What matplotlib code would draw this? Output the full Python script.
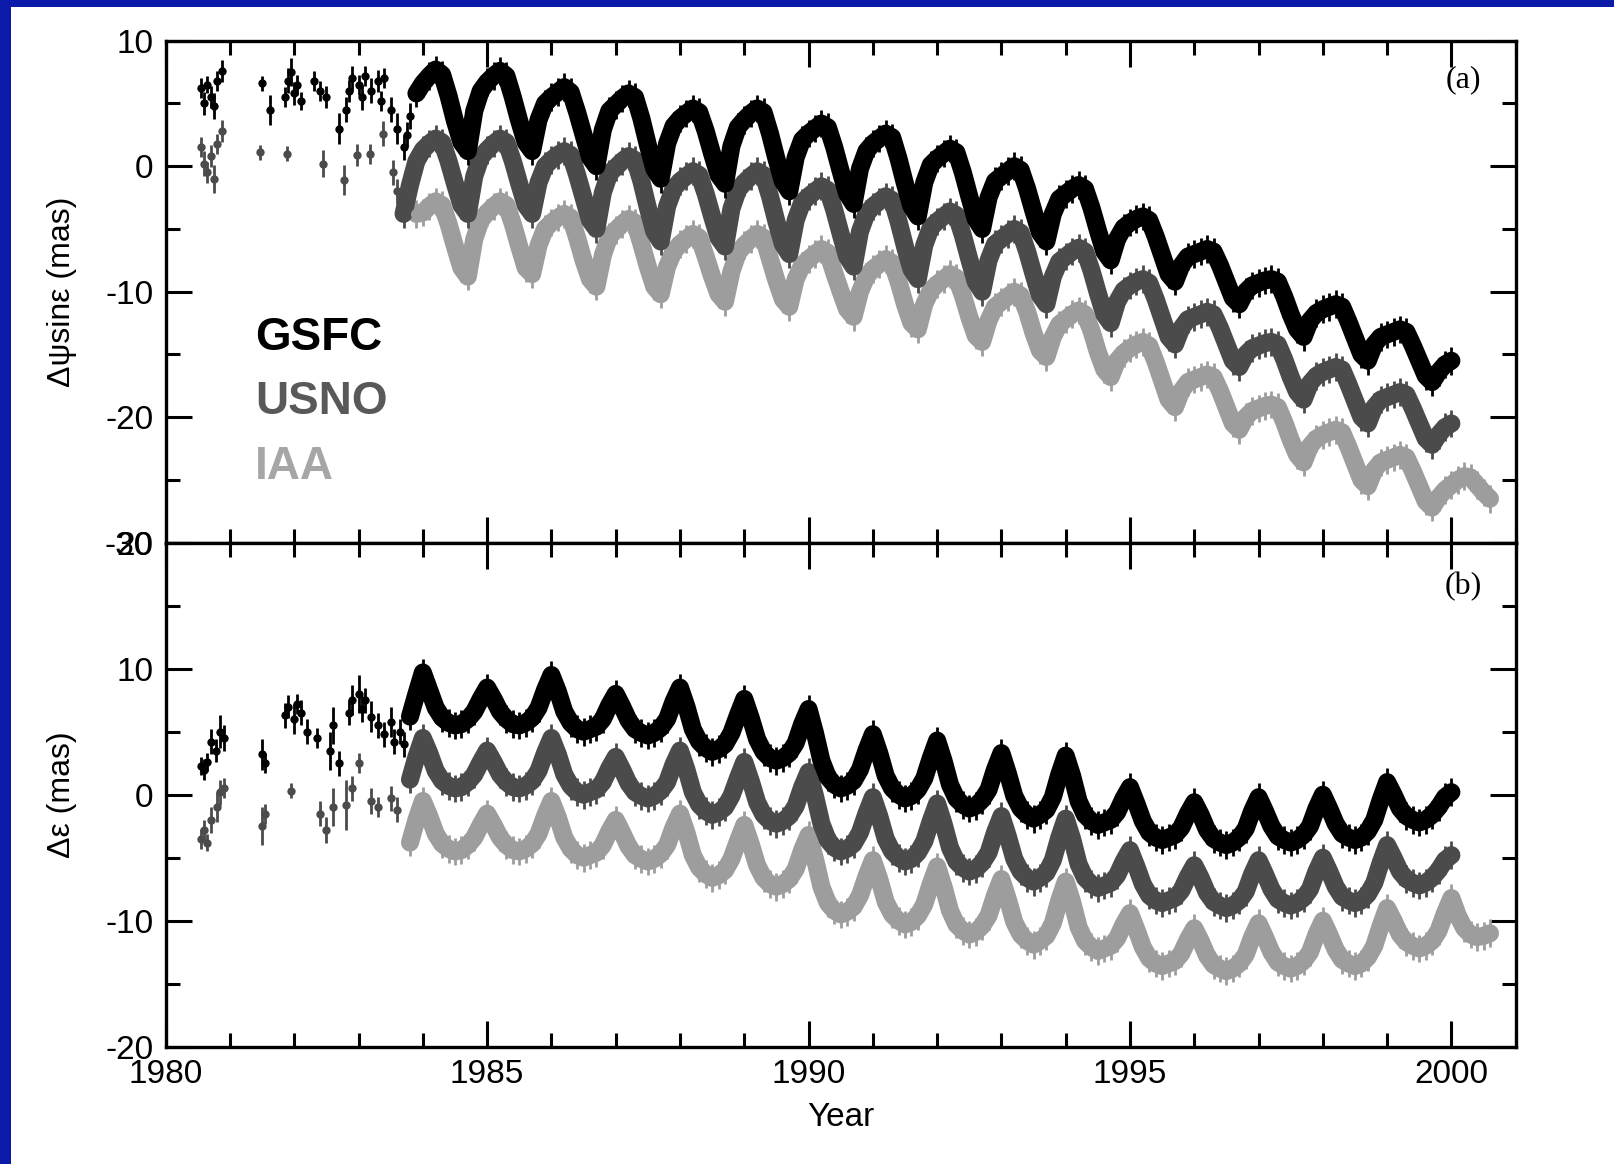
import numpy as np
import matplotlib
matplotlib.use("Agg")
import matplotlib.pyplot as plt
from matplotlib.patches import Rectangle
from matplotlib.ticker import MultipleLocator

plt.rcParams["font.family"] = ["Liberation Sans", "DejaVu Sans"]
plt.rcParams["axes.unicode_minus"] = False

# dense solutions are sampled every 0.1 yr from the given start epoch
STEP = 0.1

# ---- panel (a): dpsi sin(eps), mas ----
gsfc_dpsi_start = 1983.9
gsfc_dpsi = [
    5.8,
    6.6, 7.2, 7.7, 7.3, 5.6, 3.6, 1.9, 1.2, 4.4, 6.0,
    6.7, 7.2, 7.6, 7.2, 5.5, 3.6, 1.9, 1.2, 3.7, 5.0,
    5.5, 5.9, 6.3, 5.9, 4.3, 2.5, 0.7, 0.0, 2.9, 4.4,
    4.9, 5.4, 5.8, 5.5, 3.8, 1.7, -0.2, -1.0, 1.8, 3.2,
    3.8, 4.2, 4.6, 4.3, 2.8, 1.0, -0.7, -1.4, 1.6, 3.1,
    3.7, 4.2, 4.6, 4.3, 2.6, 0.6, -1.2, -2.0, 0.7, 2.1,
    2.6, 3.0, 3.4, 3.1, 1.5, -0.4, -2.2, -3.0, -0.2, 1.2,
    1.8, 2.2, 2.6, 2.3, 0.6, -1.4, -3.2, -4.0, -1.3, 0.1,
    0.6, 1.0, 1.4, 1.1, -0.5, -2.4, -4.2, -5.0, -2.5, -1.2,
    -0.8, -0.4, 0.0, -0.3, -1.8, -3.6, -5.3, -6.0, -3.8, -2.6,
    -2.2, -1.8, -1.5, -1.8, -3.3, -5.1, -6.8, -7.5, -5.8, -4.9,
    -4.5, -4.2, -4.0, -4.3, -5.6, -7.1, -8.6, -9.2, -7.9, -7.2,
    -7.0, -6.8, -6.6, -6.8, -7.9, -9.2, -10.5, -11.0, -10.0, -9.5,
    -9.3, -9.1, -9.0, -9.2, -10.4, -11.8, -13.0, -13.6, -12.3, -11.7,
    -11.4, -11.2, -11.0, -11.2, -12.4, -13.7, -15.0, -15.5, -14.2, -13.6,
    -13.4, -13.2, -13.0, -13.2, -14.3, -15.5, -16.7, -17.2, -16.4, -15.8,
    -15.5,
]
usno_dpsi_start = 1983.7
usno_dpsi = [
    -3.8, -1.5, 0.4,
    1.3, 1.8, 2.2, 1.9, 0.4, -1.4, -3.1, -3.8, -0.8, 0.7,
    1.3, 1.8, 2.2, 1.9, 0.4, -1.4, -3.1, -3.8, -1.3, 0.0,
    0.5, 0.9, 1.2, 0.9, -0.7, -2.5, -4.3, -5.0, -2.1, -0.6,
    -0.1, 0.4, 0.8, 0.5, -1.2, -3.3, -5.2, -6.0, -3.2, -1.8,
    -1.2, -0.8, -0.4, -0.7, -2.2, -4.0, -5.7, -6.4, -3.4, -1.9,
    -1.3, -0.8, -0.4, -0.7, -2.4, -4.4, -6.2, -7.0, -4.3, -2.9,
    -2.4, -2.0, -1.6, -1.9, -3.5, -5.4, -7.2, -8.0, -5.2, -3.8,
    -3.2, -2.8, -2.4, -2.7, -4.4, -6.4, -8.2, -9.0, -6.3, -4.9,
    -4.4, -4.0, -3.6, -3.9, -5.5, -7.4, -9.2, -10.0, -7.5, -6.2,
    -5.8, -5.4, -5.0, -5.3, -6.8, -8.6, -10.3, -11.0, -8.8, -7.6,
    -7.2, -6.8, -6.5, -6.8, -8.3, -10.1, -11.8, -12.5, -10.8, -9.9,
    -9.5, -9.2, -9.0, -9.3, -10.6, -12.1, -13.6, -14.2, -12.9, -12.2,
    -12.0, -11.8, -11.6, -11.8, -12.9, -14.2, -15.5, -16.0, -15.0, -14.5,
    -14.3, -14.1, -14.0, -14.2, -15.4, -16.8, -18.0, -18.6, -17.3, -16.7,
    -16.4, -16.2, -16.0, -16.2, -17.4, -18.7, -20.0, -20.5, -19.2, -18.6,
    -18.4, -18.2, -18.0, -18.2, -19.3, -20.5, -21.7, -22.2, -21.4, -20.8,
    -20.5,
]
iaa_dpsi_start = 1983.9
iaa_dpsi = [
    -3.8,
    -3.7, -3.2, -2.8, -3.1, -4.6, -6.4, -8.1, -8.8, -5.8, -4.3,
    -3.7, -3.2, -2.8, -3.1, -4.6, -6.4, -8.1, -8.6, -6.3, -5.0,
    -4.5, -4.1, -3.8, -4.1, -5.7, -7.5, -9.0, -9.6, -7.1, -5.6,
    -5.1, -4.6, -4.2, -4.5, -6.2, -8.0, -9.6, -10.2, -8.0, -6.8,
    -6.2, -5.8, -5.4, -5.7, -7.2, -8.8, -10.2, -10.8, -8.4, -6.9,
    -6.3, -5.8, -5.4, -5.7, -7.4, -9.1, -10.6, -11.2, -9.0, -7.9,
    -7.4, -7.0, -6.6, -6.9, -8.5, -10.0, -11.4, -12.0, -10.0, -8.8,
    -8.2, -7.8, -7.4, -7.7, -9.2, -11.0, -12.5, -13.0, -11.0, -9.9,
    -9.4, -9.0, -8.6, -8.9, -10.3, -12.0, -13.5, -14.0, -12.3, -11.2,
    -10.8, -10.4, -10.0, -10.3, -11.6, -13.3, -14.7, -15.2, -13.6, -12.6,
    -12.2, -11.8, -11.5, -11.8, -13.1, -14.8, -16.2, -16.8, -15.5, -14.9,
    -14.5, -14.2, -14.0, -14.3, -15.6, -17.1, -18.6, -19.2, -17.9, -17.2,
    -17.0, -16.8, -16.6, -16.8, -17.9, -19.2, -20.5, -21.0, -20.0, -19.5,
    -19.3, -19.1, -19.0, -19.2, -20.4, -21.8, -23.0, -23.6, -22.3, -21.7,
    -21.4, -21.2, -21.0, -21.2, -22.4, -23.7, -25.0, -25.5, -24.2, -23.6,
    -23.4, -23.2, -23.0, -23.2, -24.3, -25.5, -26.7, -27.2, -26.4, -25.8,
    -25.4, -25.0, -24.7, -24.8, -25.4, -26.0, -26.5,
]

# sparse early sessions (epoch, value, sigma)
gsfc_dpsi_early_t = [1980.55, 1980.6, 1980.65, 1980.7, 1980.75, 1980.8, 1980.88,
                     1981.5, 1981.62, 1981.85, 1981.9, 1981.95, 1982.0, 1982.05,
                     1982.1, 1982.3, 1982.4, 1982.5, 1982.7, 1982.8, 1982.85,
                     1982.9, 1983.0, 1983.05, 1983.1, 1983.2, 1983.3, 1983.35,
                     1983.4, 1983.5, 1983.6, 1983.7, 1983.75, 1983.8]
gsfc_dpsi_early_v = [6.2, 5.0, 6.5, 5.5, 4.8, 6.8, 7.6,
                     6.6, 4.5, 5.5, 6.8, 7.5, 5.8, 6.5,
                     5.2, 6.8, 6.0, 5.5, 3.0, 4.5, 6.0,
                     7.0, 6.5, 5.5, 7.2, 6.0, 6.8, 5.2,
                     7.0, 4.5, 3.0, 1.5, 2.5, 4.0]
gsfc_dpsi_early_e = [0.8, 0.9, 0.7, 0.9, 1.0, 0.8, 0.9,
                     0.6, 1.2, 0.8, 1.0, 1.1, 0.9, 0.8,
                     0.7, 0.8, 0.8, 0.9, 1.2, 1.0, 0.9,
                     1.0, 0.8, 1.0, 0.8, 1.0, 0.9, 0.8,
                     0.8, 1.0, 1.2, 1.0, 1.0, 1.0]
usno_dpsi_early_t = [1980.55, 1980.6, 1980.65, 1980.7, 1980.75, 1980.8, 1980.88,
                     1981.47, 1981.88, 1982.45, 1982.77, 1982.98, 1983.18,
                     1983.38, 1983.54, 1983.6]
usno_dpsi_early_v = [1.5, 0.2, -0.5, 0.8, -1.0, 1.8, 2.8,
                     1.1, 1.0, 0.2, -1.1, 0.9, 1.0,
                     2.6, -0.5, -2.0]
usno_dpsi_early_e = [0.8, 1.0, 0.8, 0.9, 1.1, 0.8, 0.9,
                     0.6, 0.6, 1.1, 1.2, 0.9, 0.8,
                     1.0, 1.0, 1.0]

# ---- panel (b): deps, mas ----
gsfc_deps_start = 1983.8
gsfc_deps = [
    6.2, 8.0,
    9.7, 8.3, 6.9, 6.1, 5.7, 5.5, 5.6, 6.0, 6.6, 7.6,
    8.5, 7.6, 6.6, 6.0, 5.6, 5.5, 5.7, 6.1, 6.9, 8.3,
    9.5, 8.2, 6.6, 5.7, 5.2, 5.0, 5.2, 5.4, 6.0, 7.1,
    8.0, 7.0, 5.9, 5.2, 4.9, 4.7, 4.9, 5.3, 6.0, 7.4,
    8.5, 7.0, 5.2, 4.2, 3.7, 3.4, 3.6, 4.0, 4.9, 6.3,
    7.6, 6.1, 4.4, 3.4, 2.9, 2.7, 2.9, 3.3, 4.1, 5.6,
    6.8, 4.9, 2.7, 1.4, 0.8, 0.5, 0.7, 1.1, 2.0, 3.5,
    4.8, 3.3, 1.5, 0.5, 0.0, -0.3, -0.1, 0.4, 1.3, 2.9,
    4.3, 2.7, 0.8, -0.3, -0.8, -1.1, -0.9, -0.4, 0.4, 2.0,
    3.3, 1.7, -0.1, -1.1, -1.6, -1.9, -1.6, -1.2, -0.2, 1.6,
    3.1, 1.5, -0.5, -1.6, -2.1, -2.4, -2.2, -2.0, -1.4, -0.3,
    0.6, -0.7, -2.1, -3.0, -3.4, -3.6, -3.4, -3.2, -2.6, -1.5,
    -0.6, -1.6, -2.8, -3.5, -3.8, -4.0, -3.8, -3.4, -2.7, -1.3,
    -0.2, -1.3, -2.5, -3.3, -3.6, -3.8, -3.6, -3.2, -2.5, -1.1,
    0.0, -1.1, -2.3, -3.1, -3.4, -3.6, -3.4, -2.9, -2.0, -0.4,
    1.0, 0.0, -1.1, -1.7, -2.0, -2.2, -2.0, -1.6, -1.0, -0.2,
    0.2,
]
usno_deps_start = 1983.8
usno_deps = [
    1.2, 3.0,
    4.5, 3.3, 1.9, 1.1, 0.7, 0.5, 0.6, 1.0, 1.6, 2.6,
    3.5, 2.6, 1.6, 1.0, 0.6, 0.5, 0.7, 1.1, 1.9, 3.3,
    4.5, 3.2, 1.6, 0.7, 0.2, 0.0, 0.2, 0.4, 1.0, 2.1,
    3.0, 2.0, 0.9, 0.2, -0.1, -0.3, -0.1, 0.3, 1.0, 2.4,
    3.5, 2.0, 0.2, -0.8, -1.3, -1.6, -1.4, -1.0, -0.1, 1.3,
    2.6, 1.1, -0.6, -1.6, -2.1, -2.3, -2.1, -1.7, -0.9, 0.6,
    1.8, -0.1, -2.3, -3.6, -4.2, -4.5, -4.3, -3.9, -3.0, -1.5,
    -0.2, -1.7, -3.5, -4.5, -5.0, -5.3, -5.1, -4.6, -3.7, -2.1,
    -0.7, -2.3, -4.2, -5.3, -5.8, -6.1, -5.9, -5.4, -4.6, -3.0,
    -1.7, -3.3, -5.1, -6.1, -6.6, -6.9, -6.6, -6.2, -5.2, -3.4,
    -1.9, -3.5, -5.5, -6.6, -7.1, -7.4, -7.2, -7.0, -6.4, -5.3,
    -4.4, -5.7, -7.1, -8.0, -8.4, -8.6, -8.4, -8.2, -7.6, -6.5,
    -5.6, -6.6, -7.8, -8.5, -8.8, -9.0, -8.8, -8.4, -7.7, -6.3,
    -5.2, -6.3, -7.5, -8.3, -8.6, -8.8, -8.6, -8.2, -7.5, -6.1,
    -5.0, -6.1, -7.3, -8.1, -8.4, -8.6, -8.4, -7.9, -7.0, -5.4,
    -4.0, -5.0, -6.1, -6.7, -7.0, -7.2, -7.0, -6.6, -6.0, -5.2,
    -4.8,
]
iaa_deps_start = 1983.8
iaa_deps = [
    -3.8, -2.0,
    -0.5, -1.7, -3.1, -3.9, -4.3, -4.5, -4.4, -4.0, -3.4, -2.4,
    -1.5, -2.4, -3.4, -4.0, -4.4, -4.5, -4.3, -3.9, -3.1, -1.7,
    -0.5, -1.8, -3.4, -4.3, -4.8, -5.0, -4.8, -4.6, -4.0, -2.9,
    -2.0, -3.0, -4.1, -4.8, -5.1, -5.3, -5.1, -4.7, -4.0, -2.6,
    -1.5, -3.0, -4.8, -5.8, -6.3, -6.6, -6.4, -6.0, -5.1, -3.7,
    -2.4, -3.9, -5.6, -6.6, -7.1, -7.3, -7.1, -6.7, -5.9, -4.4,
    -3.2, -5.1, -7.3, -8.6, -9.2, -9.5, -9.3, -8.9, -8.0, -6.5,
    -5.2, -6.7, -8.5, -9.5, -10.0, -10.3, -10.1, -9.6, -8.7, -7.1,
    -5.7, -7.3, -9.2, -10.3, -10.8, -11.1, -10.9, -10.4, -9.6, -8.0,
    -6.7, -8.3, -10.1, -11.1, -11.6, -11.9, -11.6, -11.2, -10.2, -8.4,
    -6.9, -8.5, -10.5, -11.6, -12.1, -12.4, -12.2, -12.0, -11.4, -10.3,
    -9.4, -10.7, -12.1, -13.0, -13.4, -13.6, -13.4, -13.2, -12.6, -11.5,
    -10.6, -11.6, -12.8, -13.5, -13.8, -14.0, -13.8, -13.4, -12.7, -11.3,
    -10.2, -11.3, -12.5, -13.3, -13.6, -13.8, -13.6, -13.2, -12.5, -11.1,
    -10.0, -11.1, -12.3, -13.1, -13.4, -13.6, -13.4, -12.9, -12.0, -10.4,
    -9.0, -10.0, -11.1, -11.7, -12.0, -12.2, -12.0, -11.6, -10.8, -9.4,
    -8.2, -9.6, -10.6, -11.1, -11.3, -11.2, -11.0,
]

gsfc_deps_early_t = [1980.55, 1980.6, 1980.65, 1980.7, 1980.78, 1980.85, 1980.9,
                     1981.5, 1981.55, 1981.85, 1981.9, 1982.0, 1982.05, 1982.1,
                     1982.2, 1982.35, 1982.55, 1982.6, 1982.7, 1982.85, 1982.9,
                     1983.0, 1983.05, 1983.1, 1983.2, 1983.3, 1983.4, 1983.5,
                     1983.55, 1983.65, 1983.7]
gsfc_deps_early_v = [2.3, 2.0, 2.6, 4.2, 3.5, 5.0, 4.5,
                     3.2, 2.5, 6.3, 7.0, 6.0, 7.2, 6.5,
                     5.0, 4.5, 3.5, 5.5, 2.5, 6.5, 7.5,
                     8.0, 6.8, 7.5, 6.2, 5.5, 4.8, 5.8,
                     4.2, 5.0, 4.0]
gsfc_deps_early_e = [0.7, 0.8, 0.7, 1.0, 0.9, 1.3, 1.0,
                     1.2, 0.8, 1.0, 0.9, 1.2, 0.8, 1.0,
                     1.0, 0.8, 1.5, 1.5, 1.0, 1.0, 1.2,
                     1.5, 1.0, 1.0, 1.2, 1.0, 1.0, 1.2,
                     1.0, 1.0, 1.0]
usno_deps_early_t = [1980.55, 1980.6, 1980.65, 1980.7, 1980.8, 1980.85, 1980.9,
                     1981.5, 1981.55, 1981.95, 1982.4, 1982.5, 1982.6, 1982.8,
                     1982.9, 1983.0, 1983.2, 1983.3, 1983.5, 1983.6]
usno_deps_early_v = [-3.5, -2.8, -3.8, -2.0, -1.0, 0.2, 0.5,
                     -2.5, -1.5, 0.3, -1.5, -2.8, -1.0, -0.8,
                     0.5, 2.5, -0.5, -1.0, -0.3, -1.2]
usno_deps_early_e = [0.8, 0.8, 0.7, 1.0, 1.2, 1.0, 0.8,
                     1.5, 0.8, 0.6, 1.0, 1.0, 1.5, 2.0,
                     1.0, 0.8, 1.0, 0.8, 1.0, 1.0]

DENSE_SIGMA = 1.1

COLORS = {"GSFC": "#000000", "USNO": "#4b4b4b", "IAA": "#9d9d9d"}
LABEL_COLORS = {"GSFC": "#000000", "USNO": "#595959", "IAA": "#a6a6a6"}


def epochs(start, values):
    return start + STEP * np.arange(len(values))


def draw_points(ax, t, v, err, color, ms=6, cap=4.5):
    ax.errorbar(t, v, yerr=err, fmt="o", ms=ms, mew=0, color=color, ecolor=color,
                elinewidth=2.0, capsize=cap, capthick=2.2, zorder=2)


def draw_dense(ax, t, v, color):
    # the sessions are packed so tightly that they merge into a solid band
    ax.plot(t, v, color=color, lw=13, solid_joinstyle="round",
            solid_capstyle="round", zorder=2)
    draw_points(ax, t, v, DENSE_SIGMA, color, ms=8, cap=5.5)


def style_axis(ax, ylim):
    ax.set_xlim(1980, 2001)
    ax.set_ylim(*ylim)
    ax.xaxis.set_major_locator(MultipleLocator(5))
    ax.xaxis.set_minor_locator(MultipleLocator(1))
    ax.yaxis.set_major_locator(MultipleLocator(10))
    ax.yaxis.set_minor_locator(MultipleLocator(5))
    ax.tick_params(which="both", direction="in", top=True, right=True,
                   width=2.2, labelsize=24, pad=9)
    ax.tick_params(which="major", length=19)
    ax.tick_params(which="minor", length=10)
    for spine in ax.spines.values():
        spine.set_linewidth(2.4)
        spine.set_zorder(5)


fig = plt.figure(figsize=(16.14, 11.64), dpi=100)
fig.patch.set_facecolor("white")
ax_a = fig.add_axes([0.10266, 0.53376, 0.83643, 0.43127])
ax_b = fig.add_axes([0.10266, 0.10077, 0.83643, 0.43299])

# panel (a)
draw_points(ax_a, usno_dpsi_early_t, usno_dpsi_early_v, usno_dpsi_early_e, COLORS["USNO"])
draw_points(ax_a, gsfc_dpsi_early_t, gsfc_dpsi_early_v, gsfc_dpsi_early_e, COLORS["GSFC"])
draw_dense(ax_a, epochs(iaa_dpsi_start, iaa_dpsi), iaa_dpsi, COLORS["IAA"])
draw_dense(ax_a, epochs(usno_dpsi_start, usno_dpsi), usno_dpsi, COLORS["USNO"])
draw_dense(ax_a, epochs(gsfc_dpsi_start, gsfc_dpsi), gsfc_dpsi, COLORS["GSFC"])

# panel (b)
draw_points(ax_b, usno_deps_early_t, usno_deps_early_v, usno_deps_early_e, COLORS["USNO"])
draw_points(ax_b, gsfc_deps_early_t, gsfc_deps_early_v, gsfc_deps_early_e, COLORS["GSFC"])
draw_dense(ax_b, epochs(iaa_deps_start, iaa_deps), iaa_deps, COLORS["IAA"])
draw_dense(ax_b, epochs(usno_deps_start, usno_deps), usno_deps, COLORS["USNO"])
draw_dense(ax_b, epochs(gsfc_deps_start, gsfc_deps), gsfc_deps, COLORS["GSFC"])

style_axis(ax_a, (-30, 10))
style_axis(ax_b, (-20, 20))
ax_a.tick_params(labelbottom=False)

ax_a.set_ylabel("Δψsinε (mas)", fontsize=23)
ax_b.set_ylabel("Δε (mas)", fontsize=23)
ax_a.yaxis.set_label_coords(-0.066, 0.5)
ax_b.yaxis.set_label_coords(-0.066, 0.5)
ax_b.set_xlabel("Year", fontsize=24)
ax_b.xaxis.set_label_coords(0.5, -0.11)

for ax, tag, ypos in ((ax_a, "(a)", 0.922), (ax_b, "(b)", 0.912)):
    ax.text(0.961, ypos, tag, transform=ax.transAxes, ha="center", va="center",
            fontsize=23, family=["Liberation Serif", "DejaVu Serif"])

for name, ypos in (("GSFC", 0.408), ("USNO", 0.280), ("IAA", 0.151)):
    ax_a.text(0.066, ypos, name, transform=ax_a.transAxes, ha="left", va="center",
              fontsize=33, fontweight="bold", color=LABEL_COLORS[name])

# slide frame: blue bars along the top and left edges
frame_blue = "#0b1aa8"
fig.add_artist(Rectangle((0, 1 - 7 / 1164), 1, 7 / 1164, transform=fig.transFigure,
                         facecolor=frame_blue, edgecolor="none", zorder=10))
fig.add_artist(Rectangle((0, 0), 11 / 1614, 1, transform=fig.transFigure,
                         facecolor=frame_blue, edgecolor="none", zorder=10))

fig.savefig("out.png", dpi=100, facecolor="white")
plt.close(fig)
